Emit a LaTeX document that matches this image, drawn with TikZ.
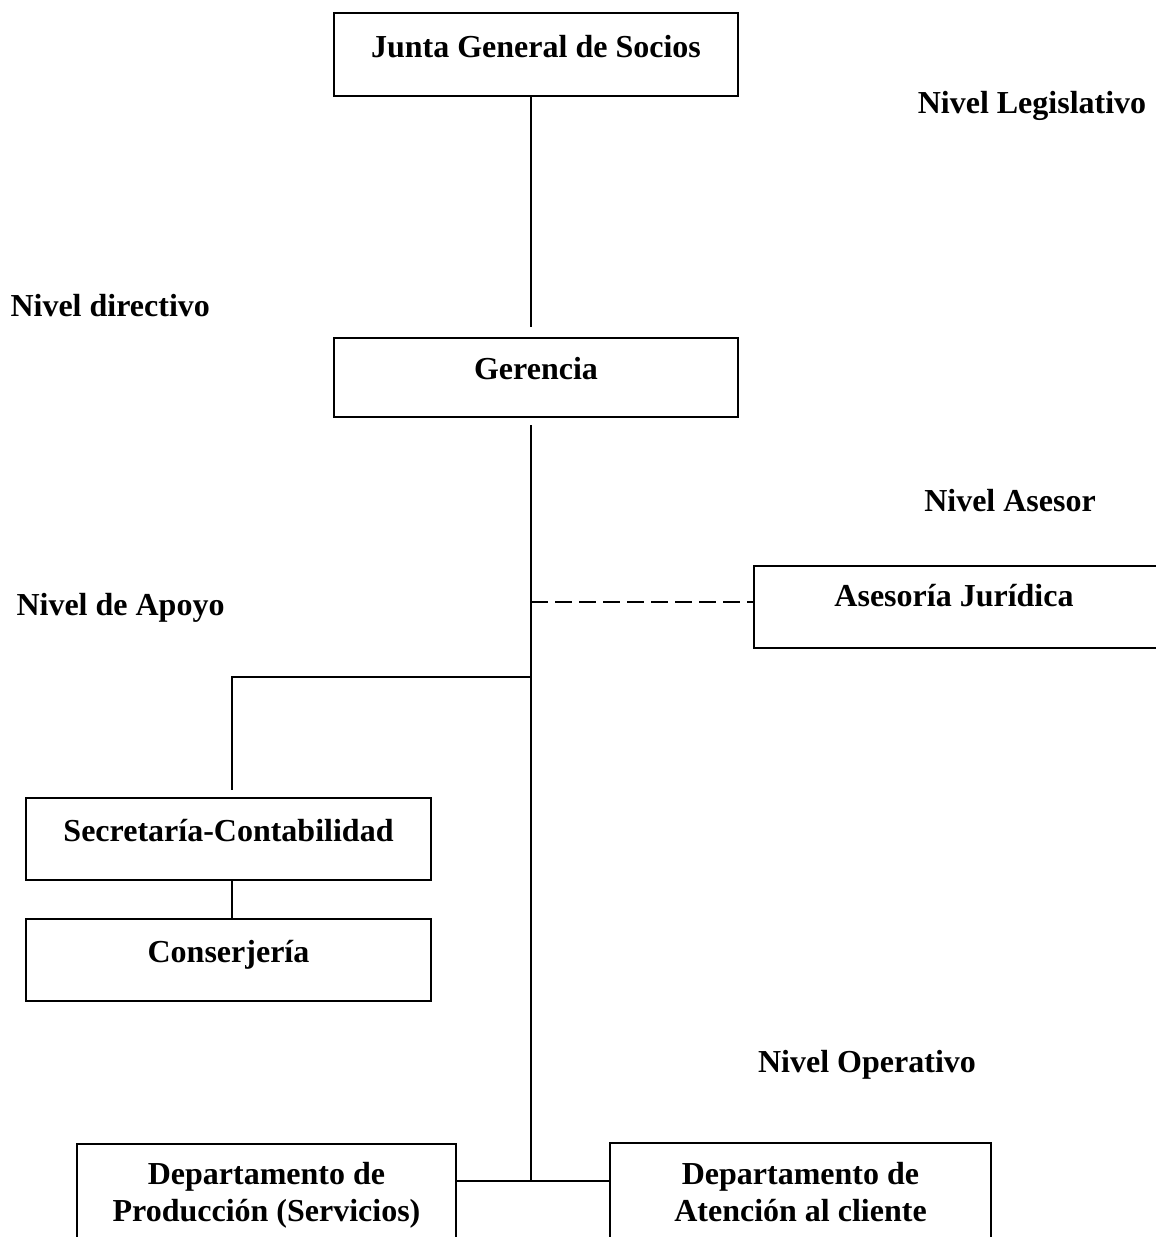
\documentclass[tikz,border=0pt]{standalone}
\usepackage{fontspec}
\setmainfont{Liberation Serif}
\usepackage{tikz}

\begin{document}
\begin{tikzpicture}
[x=1pt, y=-1pt,
 every node/.style={font=\fontsize{32}{37}\selectfont\bfseries},
 caja/.style={draw, line width=2pt, anchor=north west, inner ysep=0pt, align=center},
 nivel/.style={anchor=base},
 linea/.style={line width=1.3pt},
 apoyo/.style={line width=1.8pt, dash pattern=on 17pt off 7pt}]
\useasboundingbox (0,0) rectangle (1156,1237);

% boxes
\node[caja, minimum width=404pt, text height=44pt, text depth=39pt] (junta) at (333,12) {Junta General de Socios};
\node[caja, minimum width=404pt, text height=41pt, text depth=38pt] (ger) at (333,337) {Gerencia};
\node[caja, minimum width=420pt, text height=40pt, text depth=42pt] (ases) at (753,565) {Asesoría Jurídica\hspace*{20pt}};
\node[caja, minimum width=405pt, text height=43pt, text depth=39pt] (secr) at (25,797) {Secretaría-Contabilidad};
\node[caja, minimum width=405pt, text height=43pt, text depth=39pt] (cons) at (25,918) {Conserjería};
\node[caja, minimum width=379pt, text height=77pt, text depth=100pt] (prod) at (76,1143) {Departamento de\\Producción (Servicios)};
\node[caja, minimum width=381pt, text height=78pt, text depth=100pt] (aten) at (609,1142) {Departamento de\\Atención al cliente};

% levels
\node[nivel] (legis) at (1032,113) {Nivel Legislativo};
\node[nivel, anchor=base west] (direc) at (7,316) {Nivel directivo};
\node[nivel] (asesor) at (1010,511) {Nivel Asesor};
\node[nivel, anchor=base west] (apoyo) at (13,615) {Nivel de Apoyo};
\node[nivel] (oper) at (867,1072) {Nivel Operativo};

\coordinate (c1) at (531,327);
\coordinate (c2) at (531,425);
\coordinate (c3) at (531,602);
\coordinate (c4) at (531,677);
\coordinate (c5) at (232,790);
\coordinate (c6) at (531,1181);

\draw[linea] (junta.south -| c1) -- (c1);
\draw[linea] (c2) -- (c6);
\draw[apoyo] (c3) -- (c3 -| ases.west);
\draw[linea] (c4) -- (c4 -| c5) -- (c5);
\draw[linea] (secr.south -| c5) -- (cons.north -| c5);
\draw[linea] (c6 -| prod.east) -- (c6 -| aten.west);

\end{tikzpicture}
\end{document}
